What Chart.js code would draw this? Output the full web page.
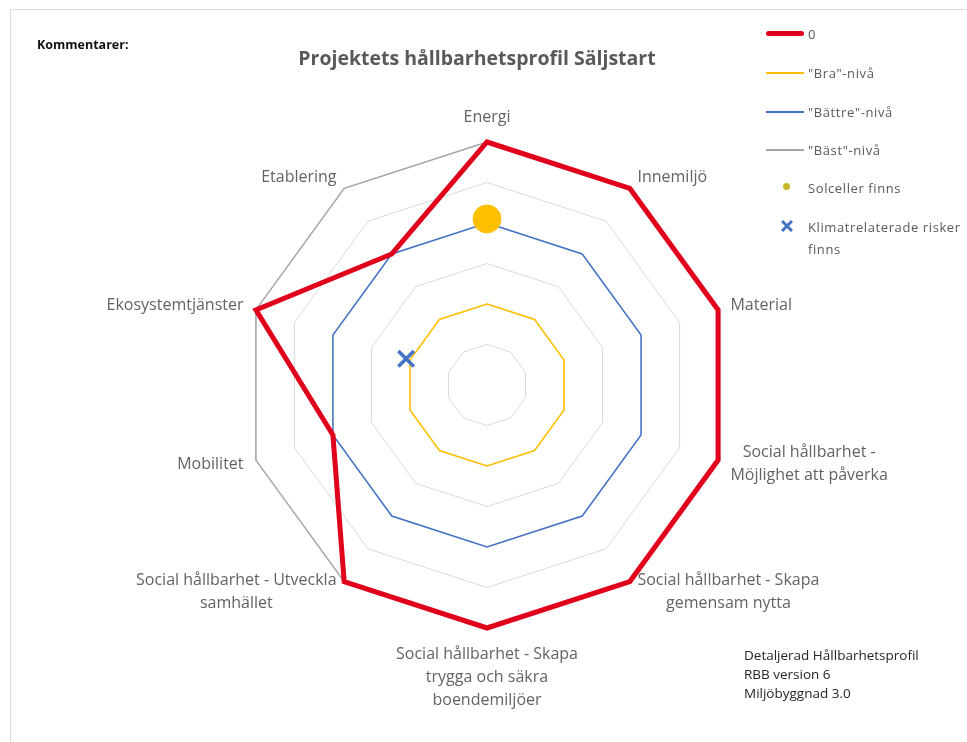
<!DOCTYPE html>
<html>
<head>
<meta charset="utf-8">
<script src="https://cdn.jsdelivr.net/npm/chart.js@4/dist/chart.umd.min.js"></script>
<style>
  body { margin: 0; background: #fff; overflow: hidden; font-family: "Open Sans", sans-serif; }
  #wrap { position: relative; width: 967px; height: 742px; }
  #frame { position: absolute; left: 10px; top: 9px; width: 1000px; height: 800px; border: 1px solid #dcdcdc; }
  canvas { position: absolute; left: 0; top: 0; }
  .txt { position: absolute; white-space: nowrap; }
  #kommentarer { left: 37px; top: 36px; font-size: 12.5px; font-weight: bold; color: #111; }
  #title { left: 0; width: 954px; text-align: center; top: 44px; font-size: 19.5px; font-weight: bold; color: #595959; }
  #info { left: 744px; top: 646px; font-size: 13.5px; line-height: 19px; color: #262626; white-space: pre; }
  .leg { position: absolute; left: 766px; height: 20px; font-size: 13px; letter-spacing: 0.6px; color: #595959; }
  .leg .sample { position: absolute; left: 0; top: 10px; width: 38px; }
  .leg .label { position: absolute; left: 42px; top: 0px; white-space: nowrap; line-height: 22px; }
</style>
</head>
<body>
<div id="wrap">
  <div id="frame"></div>
  <canvas id="radar" width="967" height="742"></canvas>
  <div class="txt" id="kommentarer">Kommentarer:</div>
  <div class="txt" id="title">Projektets hållbarhetsprofil Säljstart</div>
  <div class="txt" id="info">Detaljerad Hållbarhetsprofil
RBB version 6
Miljöbyggnad 3.0</div>
  <div id="legend"></div>
</div>
<script>
// axes, clockwise from the top
const categories = [
  'Energi',
  'Innemiljö',
  'Material',
  ['Social hållbarhet -', 'Möjlighet att påverka'],
  ['Social hållbarhet - Skapa', 'gemensam nytta'],
  ['Social hållbarhet - Skapa', 'trygga och säkra', 'boendemiljöer'],
  ['Social hållbarhet - Utveckla', 'samhället'],
  'Mobilitet',
  'Ekosystemtjänster',
  'Etablering'
];
const projectValues = [3, 3, 3, 3, 3, 3, 3, 2, 3, 2];
const braLevel = [1, 1, 1, 1, 1, 1, 1, 1, 1, 1];
const battreLevel = [2, 2, 2, 2, 2, 2, 2, 2, 2, 2];
const bastLevel = [3, 3, 3, 3, 3, 3, 3, 3, 3, 3];
const solceller = [2.05, null, null, null, null, null, null, null, null, null];
const klimatRisker = [null, null, null, null, null, null, null, null, 1.05, null];
const seriesNames = ['0', '"Bra"-nivå', '"Bättre"-nivå', '"Bäst"-nivå', 'Solceller finns', 'Klimatrelaterade risker finns'];

const RED = '#e0001b';
const YELLOW = '#ffc000';
const BLUE = '#4472c4';
const GREY = '#a5a5a5';

// draws the category labels around the web, Excel style
const axisLabels = {
  id: 'axisLabels',
  beforeDatasetsDraw(chart) {
    const scale = chart.scales.r;
    const ctx = chart.ctx;
    const lh = 23;
    ctx.save();
    ctx.font = '16px "Open Sans"';
    ctx.fillStyle = '#636363';
    ctx.textAlign = 'center';
    ctx.textBaseline = 'middle';
    categories.forEach(function (label, i) {
      const lines = Array.isArray(label) ? label : [label];
      const p = scale.getPointPosition(i, scale.drawingArea + 13);
      const w = Math.max.apply(null, lines.map(l => ctx.measureText(l).width));
      const h = lines.length * lh;
      const dx = p.x - scale.xCenter;
      let cx = p.x;
      let top = p.y - h / 2;
      if (dx > 1) cx = p.x + w / 2;
      else if (dx < -1) cx = p.x - w / 2;
      else top = p.y < scale.yCenter ? p.y - h : p.y + 2;
      lines.forEach(function (l, k) {
        ctx.fillText(l, cx, top + lh / 2 + k * lh);
      });
    });
    ctx.restore();
  }
};

new Chart(document.getElementById('radar'), {
  type: 'radar',
  data: {
    labels: categories,
    datasets: [
      { label: seriesNames[0], data: projectValues, borderColor: RED, borderWidth: 5, pointRadius: 0, fill: false, order: 1 },
      { label: seriesNames[1], data: braLevel, borderColor: YELLOW, borderWidth: 1.5, pointRadius: 0, fill: false, order: 4 },
      { label: seriesNames[2], data: battreLevel, borderColor: BLUE, borderWidth: 1.5, pointRadius: 0, fill: false, order: 3 },
      { label: seriesNames[3], data: bastLevel, borderColor: GREY, borderWidth: 1.5, pointRadius: 0, fill: false, order: 2 },
      { label: seriesNames[4], data: solceller, showLine: false, pointRadius: 14, pointBackgroundColor: YELLOW, pointBorderColor: YELLOW, order: 0 },
      { label: seriesNames[5], data: klimatRisker, showLine: false, pointStyle: 'crossRot', pointRadius: 11, pointBorderColor: BLUE, pointBorderWidth: 3.5, order: 0 }
    ]
  },
  options: {
    responsive: false,
    animation: false,
    layout: { padding: { left: 244, top: 142, right: 237, bottom: 114 } },
    elements: { line: { tension: 0, borderJoinStyle: 'miter' } },
    plugins: {
      legend: { display: false },
      tooltip: { enabled: false }
    },
    scales: {
      r: {
        min: 0,
        max: 3,
        startAngle: 0,
        ticks: { display: false, stepSize: 0.5 },
        grid: { color: '#d9d9d9', lineWidth: 1 },
        angleLines: { display: false },
        pointLabels: { display: false }
      }
    }
  },
  plugins: [axisLabels]
});

// legend on the right
const legendRows = [
  { y: 23, html: '<div class="sample" style="top:8px;height:5px;border-radius:3px;background:' + RED + '"></div>' },
  { y: 62, html: '<div class="sample" style="height:2px;background:' + YELLOW + '"></div>' },
  { y: 101, html: '<div class="sample" style="height:2px;background:' + BLUE + '"></div>' },
  { y: 139, html: '<div class="sample" style="height:2px;background:' + GREY + '"></div>' },
  { y: 177, html: '<div style="position:absolute;left:17px;top:6px;width:7px;height:7px;border-radius:50%;background:#c8b82a"></div>' },
  { y: 216, html: '<svg style="position:absolute;left:15px;top:4px" width="12" height="12"><path d="M1 1L11 11M11 1L1 11" stroke="' + BLUE + '" stroke-width="3"/></svg>' }
];
const legend = document.getElementById('legend');
legendRows.forEach(function (row, i) {
  const d = document.createElement('div');
  d.className = 'leg';
  d.style.top = row.y + 'px';
  const name = seriesNames[i] === 'Klimatrelaterade risker finns' ? 'Klimatrelaterade risker<br>finns' : seriesNames[i];
  d.innerHTML = row.html + '<div class="label">' + name + '</div>';
  legend.appendChild(d);
});
</script>
</body>
</html>
